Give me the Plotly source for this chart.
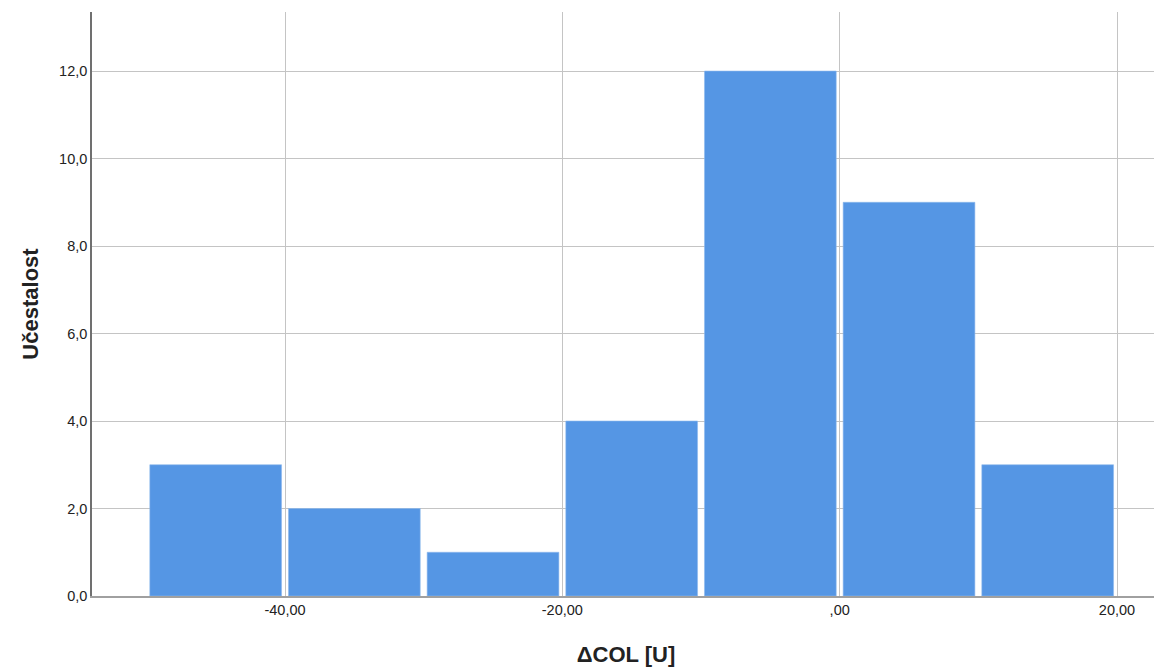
import plotly.graph_objects as go

bin_starts = [-50, -40, -30, -20, -10, 0, 10]
bin_width = 10
counts = [3, 2, 1, 4, 12, 9, 3]
x_tick_vals = [-40, -20, 0, 20]
x_tick_text = ["-40,00", "-20,00", ",00", "20,00"]
y_tick_vals = [0, 2, 4, 6, 8, 10, 12]
y_tick_text = ["0,0", "2,0", "4,0", "6,0", "8,0", "10,0", "12,0"]

centers = [s + bin_width / 2 for s in bin_starts]

fig = go.Figure()
fig.add_trace(go.Bar(
    x=centers, y=counts, width=bin_width * 0.95,
    marker=dict(color="#5596E4", line=dict(color="#8DB8EC", width=0.6)),
    hoverinfo="x+y",
))

font = "Liberation Sans, Arial, sans-serif"
fig.update_layout(
    width=1162, height=668,
    margin=dict(l=84, r=10, t=4, b=80, autoexpand=False),
    paper_bgcolor="white", plot_bgcolor="white",
    showlegend=False,
    font=dict(family=font, size=14, color="#222"),
    xaxis=dict(
        range=[-53.92, 23.1],
        tickmode="array", tickvals=x_tick_vals, ticktext=x_tick_text,
        showgrid=True, gridcolor="#C4C4C4", gridwidth=1.3,
        showline=True, linecolor="#A0A0A0", linewidth=1.5,
        zeroline=False, ticks="", ticklen=0,
        tickfont=dict(size=14.5, family=font, color="#222"),
        title=dict(text="<b>ΔCOL [U]</b>", font=dict(size=22, family=font, color="#222"), standoff=29),
        automargin=False,
    ),
    yaxis=dict(
        range=[0, 13.35],
        tickmode="array", tickvals=y_tick_vals, ticktext=y_tick_text,
        showgrid=True, gridcolor="#C4C4C4", gridwidth=1.3,
        showline=True, linecolor="#707070", linewidth=1.5,
        zeroline=False, ticks="", ticklen=0,
        tickfont=dict(size=14.5, family=font, color="#222"),
        title=dict(text="<b>Učestalost</b>", font=dict(size=22, family=font, color="#222"), standoff=14),
        automargin=False,
    ),
)

fig.write_html("out.html")
